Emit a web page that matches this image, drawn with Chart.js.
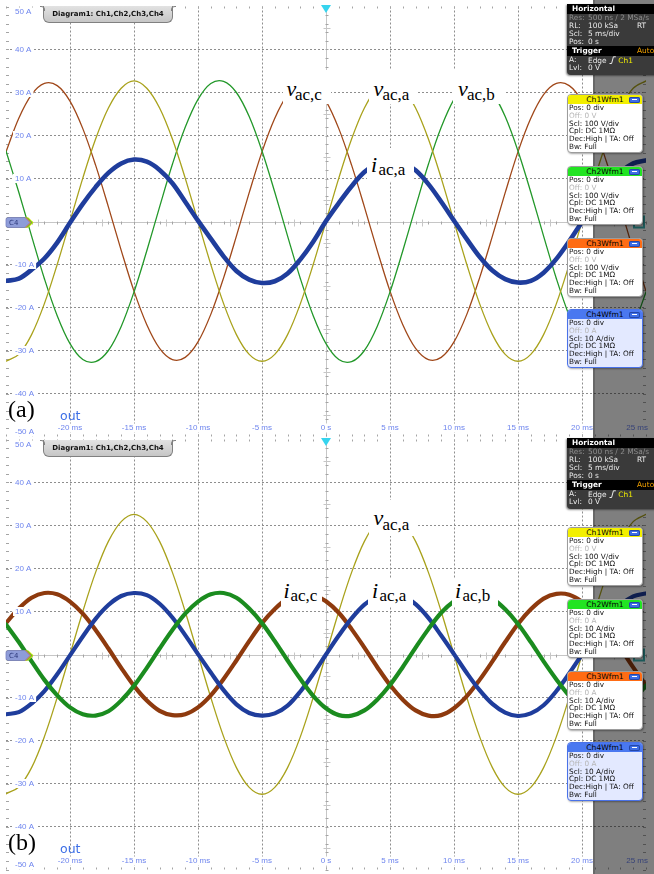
<!DOCTYPE html>
<html>
<head>
<meta charset="utf-8">
<title>Converter phase voltages and currents</title>
<script src="https://cdn.jsdelivr.net/npm/chart.js@4.4.1/dist/chart.umd.min.js"></script>
<style>
html,body{margin:0;padding:0;background:#fff}
body{position:relative;width:654px;height:874px;overflow:hidden;font-family:"DejaVu Sans",sans-serif}
.panel{position:absolute;left:0;width:654px;height:437px;overflow:hidden}
.panel canvas{position:absolute;left:0;top:0}
.hbox{position:absolute;left:567px;width:95px;background:#3a3a3a;color:#ececec;font:7.4px "DejaVu Sans",sans-serif;border-radius:0 0 0 4px;box-shadow:-1px 1px 2px rgba(0,0,0,.45);padding-bottom:3px}
.hbox .hd{background:#000;color:#fff;font-weight:bold;height:10px;line-height:10px;padding-left:5px;position:relative}
.hbox .r{height:8px;line-height:8px;padding-left:2px;white-space:nowrap;position:relative}
.hbox .v{position:absolute;left:21px;top:0}
.hbox .far{position:absolute;left:70px;top:0}
.hbox .dim{color:#8c8c8c}
.hbox .ylw{color:#f2ee00}
.hbox .org{color:#f0a000;font-weight:normal}
.chbox{position:absolute;left:567px;width:76px;box-sizing:border-box;background:#fff;border:1px solid #9c9c9c;border-radius:4px;box-shadow:1px 1px 2px rgba(0,0,0,.35);overflow:hidden;font:7.3px "DejaVu Sans",sans-serif;color:#111;padding-bottom:1px}
.chbox.c4{background:#e3e9ff;border-color:#4a72e8}
.chbox .hd{height:9px;line-height:9px;text-align:center;font-size:7.6px;color:#000;position:relative}
.chbox .btn{position:absolute;right:2px;top:1.5px;width:11px;height:6px;background:#3d6de6;border-radius:2px;box-shadow:inset 0 0 0 1px #2446a8}
.chbox .btn:after{content:"";position:absolute;left:3px;top:2.5px;width:5px;height:1px;background:#fff}
.chbox .r{height:7.8px;line-height:7.8px;padding-left:1px;white-space:nowrap}
.chbox .dim{color:#b6b6b6}
.tab{position:absolute;left:43px;width:130px;height:17px;box-sizing:border-box;background:linear-gradient(#e2e2e2,#c6c6c6);border:1px solid #808080;border-top:none;border-radius:0 0 6px 6px;font:bold 7px "DejaVu Sans",sans-serif;color:#111;text-align:center;line-height:17px}
.tab:before,.tab:after{content:"";position:absolute;top:0;width:4px;height:4px;border-top:1px solid #808080}
.tab:before{left:-4px;border-right:1px solid #808080;border-radius:0 4px 0 0}
.tab:after{right:-4px;border-left:1px solid #808080;border-radius:4px 0 0 0}
.out{position:absolute;left:60px;font:12.5px "DejaVu Sans",sans-serif;line-height:12.5px;color:#3d6fe6}
.tag{position:absolute;left:8px;font:24px "Liberation Serif",serif;line-height:24px;color:#000}
.tl{position:absolute;background:#fff}
.tl .m{position:absolute;font:italic 22px "Liberation Serif",serif;line-height:22px;color:#000;white-space:nowrap}
.tl .s{position:absolute;font:17px "Liberation Serif",serif;line-height:17px;color:#000;white-space:nowrap}
</style>
</head>
<body>
<div class="panel" id="panelA" style="top:0"><canvas id="chartA" width="654" height="437" style="width:654px;height:437px"></canvas></div>
<div class="panel" id="panelB" style="top:437px"><canvas id="chartB" width="654" height="437" style="width:654px;height:437px"></canvas></div>
<script>
// Sample instants (ms) of the captured records
const timeMs = [-25,-24,-23,-22,-21,-20,-19,-18,-17,-16,-15,-14,-13,-12,-11,-10,-9,-8,-7,-6,-5,-4,-3,-2,-1,0,1,2,3,4,5,6,7,8,9,10,11,12,13,14,15,16,17,18,19,20,21,22,23,24,25];

// (a) phase voltages (100 V/div, shown on the 10 A/div grid) and phase-a current
const vacA_a = [-32.5,-30.9,-26.3,-19.1,-10.0,0.0,10.1,19.2,26.4,31.0, 32.7,31.0,26.4,19.2,10.1,0.0,-10.0,-19.1,-26.3,-30.9, -32.5,-30.9,-26.3,-19.1,-10.0,0.0,10.1,19.2,26.4,31.0, 32.7,31.0,26.4,19.2,10.1,0.0,-10.0,-19.1,-26.3,-30.9, -32.5,-30.9,-26.3,-19.1,-10.0,0.0,10.1,19.2,26.4,31.0, 32.7];
const vacB_a = [16.4,6.8,-3.4,-13.3,-21.9,-28.4,-32.1,-32.6,-30.0,-24.4, -16.4,-6.8,3.4,13.3,21.9,28.4,32.1,32.6,30.0,24.4, 16.4,6.8,-3.4,-13.3,-21.9,-28.4,-32.1,-32.6,-30.0,-24.4, -16.4,-6.8,3.4,13.3,21.9,28.4,32.1,32.6,30.0,24.4, 16.4,6.8,-3.4,-13.3,-21.9,-28.4,-32.1,-32.6,-30.0,-24.4, -16.4];
const vacC_a = [16.2,24.0,29.5,32.1,31.6,28.0,21.6,13.1,3.4,-6.7, -16.2,-24.0,-29.5,-32.1,-31.6,-28.0,-21.6,-13.1,-3.4,6.7, 16.2,24.0,29.5,32.1,31.6,28.0,21.6,13.1,3.4,-6.7, -16.2,-24.0,-29.5,-32.1,-31.6,-28.0,-21.6,-13.1,-3.4,6.7, 16.2,24.0,29.5,32.1,31.6,28.0,21.6,13.1,3.4,-6.7, -16.2];
const iacA_a = [-13.8,-13.3,-11.2,-8.6,-4.9,-0.3,4.1,8.0,11.3,13.5, 14.4,13.9,12.0,8.9,4.6,0.2,-4.0,-8.1,-11.5,-13.5, -14.3,-13.9,-12.1,-8.8,-4.7,0.1,4.3,8.2,11.5,13.4, 14.2,13.7,11.9,8.7,4.6,0.2,-4.1,-8.2,-11.4,-13.4, -14.2,-13.8,-11.9,-8.7,-4.6,-0.1,4.2,8.2,11.4,13.5, 14.2];

// (b) phase-a voltage and the three phase currents
const vacA_b = [-32.4,-30.8,-26.3,-19.1,-10.0,0.0,10.0,19.1,26.3,30.9, 32.6,30.9,26.3,19.1,10.0,0.0,-10.0,-19.1,-26.3,-30.9, -32.5,-30.9,-26.3,-19.1,-10.0,0.0,10.0,19.1,26.3,30.9, 32.6,30.9,26.3,19.1,10.0,0.0,-10.0,-19.1,-26.3,-30.9, -32.5,-30.9,-26.3,-19.1,-10.0,0.0,10.0,19.1,26.3,30.9, 32.6];
const iacA_b = [-13.9,-13.4,-11.4,-8.5,-4.6,-0.2,4.2,8.3,11.5,13.6, 14.3,13.8,11.8,8.6,4.5,0.1,-4.2,-8.3,-11.6,-13.6, -14.2,-13.7,-11.9,-8.6,-4.5,0.0,4.4,8.4,11.6,13.5, 14.2,13.6,11.7,8.5,4.4,0.1,-4.3,-8.3,-11.5,-13.5, -14.3,-13.7,-11.8,-8.5,-4.4,0.0,4.3,8.3,11.5,13.5, 14.2];
const iacB_b = [7.0,2.9,-1.6,-5.9,-9.5,-12.3,-13.9,-14.2,-13.2,-10.7, -7.3,-3.1,1.4,5.7,9.5,12.3,14.0,14.3,13.2,10.7, 7.3,3.1,-1.4,-5.7,-9.6,-12.5,-14.1,-14.2,-13.0,-10.5, -7.1,-2.9,1.6,5.9,9.7,12.4,13.9,14.1,13.0,10.5, 7.1,2.9,-1.6,-5.8,-9.6,-12.4,-14.0,-14.2,-13.1,-10.6, -7.2];
const iacC_b = [7.3,10.7,13.2,14.3,14.0,12.3,9.5,5.7,1.4,-3.1, -7.3,-10.7,-13.1,-14.1,-13.9,-12.3,-9.5,-5.7,-1.4,3.1, 7.3,10.6,13.0,14.1,13.9,12.4,9.7,5.9,1.6,-2.9, -7.1,-10.5,-13.0,-14.2,-14.1,-12.5,-9.7,-5.9,-1.6,2.9, 7.1,10.5,13.0,14.1,13.9,12.3,9.6,5.8,1.5,-3.0, -7.2];

// Axis annotation
const xTickValues = [-20,-15,-10,-5,0,5,10,15,20,25];
const xTickLabels = ['-20 ms','-15 ms','-10 ms','-5 ms','0 s','5 ms','10 ms','15 ms','20 ms','25 ms'];
const yTickValues = [50,40,30,20,10,-10,-20,-30,-40,-50];
const yTickLabels = ['50 A','40 A','30 A','20 A','10 A','-10 A','-20 A','-30 A','-40 A','-50 A'];

const COL = {
  olive:'#a9a21c', green:'#23982a', brown:'#a0481a',
  blue:'#1f3d9c', greenThick:'#1b8c1f', brownThick:'#8e3a0e',
  grid:'#8e8e8e', axisText:'#6e85ee'
};
const ACQ_END_MS = 20.85;   // start of the shaded area past the record

const pts = vals => timeMs.map((t, i) => ({x: t, y: vals[i]}));
const gridColor = edge => c => (c.tick && (c.tick.value === 0 || Math.abs(c.tick.value) === edge)) ? 'rgba(0,0,0,0)' : COL.grid;

function pentagon(ctx, xl, yc, w, h) {
  ctx.beginPath();
  ctx.moveTo(xl + 2, yc - h / 2);
  ctx.lineTo(xl + w - 5, yc - h / 2);
  ctx.lineTo(xl + w, yc);
  ctx.lineTo(xl + w - 5, yc + h / 2);
  ctx.lineTo(xl + 2, yc + h / 2);
  ctx.quadraticCurveTo(xl, yc + h / 2, xl, yc + h / 2 - 2);
  ctx.lineTo(xl, yc - h / 2 + 2);
  ctx.quadraticCurveTo(xl, yc - h / 2, xl + 2, yc - h / 2);
  ctx.closePath();
}

const scopeDecor = {
  id: 'scopeDecor',
  beforeDatasetsDraw(chart) {
    const {ctx, chartArea: a, scales: {x, y}} = chart;
    const x0 = Math.round(x.getPixelForValue(0)) + 0.5;
    const y0 = Math.round(y.getPixelForValue(0)) + 0.5;
    ctx.save();
    ctx.lineWidth = 1;
    // centre cross with half-division marks
    ctx.strokeStyle = '#c6c6c6';
    ctx.beginPath();
    ctx.moveTo(a.left, y0); ctx.lineTo(a.right, y0);
    ctx.moveTo(x0, a.top); ctx.lineTo(x0, a.bottom);
    for (let t = -22.5; t < 25; t += 5) {
      const px = Math.round(x.getPixelForValue(t)) + 0.5;
      ctx.moveTo(px, y0 - 3); ctx.lineTo(px, y0 + 4);
    }
    for (let v = -45; v < 50; v += 10) {
      const py = Math.round(y.getPixelForValue(v)) + 0.5;
      ctx.moveTo(x0 - 3, py); ctx.lineTo(x0 + 4, py);
    }
    ctx.stroke();
    // fifth-division marks on the frame edges and the centre cross
    ctx.strokeStyle = '#a4a4a4';
    ctx.beginPath();
    for (let t = -25; t <= 25.001; t += 1) {
      const px = Math.round(x.getPixelForValue(t)) + 0.5;
      ctx.moveTo(px, a.top); ctx.lineTo(px, a.top + 2);
      ctx.moveTo(px, a.bottom - 2); ctx.lineTo(px, a.bottom);
      ctx.moveTo(px, y0 - 1); ctx.lineTo(px, y0 + 2);
    }
    for (let v = -50; v <= 50.001; v += 2) {
      const py = Math.round(y.getPixelForValue(v)) + 0.5;
      ctx.moveTo(a.left, py); ctx.lineTo(a.left + 3, py);
      ctx.moveTo(a.right - 3, py); ctx.lineTo(a.right, py);
      ctx.moveTo(x0 - 1, py); ctx.lineTo(x0 + 2, py);
    }
    ctx.stroke();
    ctx.restore();
  },
  afterDatasetsDraw(chart) {
    const {ctx, chartArea: a, scales: {x, y}} = chart;
    const x0 = x.getPixelForValue(0);
    const y0 = Math.round(y.getPixelForValue(0)) + 0.5;
    ctx.save();
    // tick labels with a white backdrop
    ctx.font = '8px "Liberation Sans", Arial, sans-serif';
    ctx.textBaseline = 'middle';
    yTickValues.forEach((v, i) => {
      const txt = yTickLabels[i];
      let py = y.getPixelForValue(v);
      py = Math.min(Math.max(py, a.top + 5.5), a.bottom - 4.5);
      const w = ctx.measureText(txt).width;
      const px = a.left + 9;
      ctx.fillStyle = '#fff';
      ctx.fillRect(px - 2, py - 4.5, w + 4, 9);
      ctx.fillStyle = COL.axisText;
      ctx.textAlign = 'left';
      ctx.fillText(txt, px, py);
    });
    xTickValues.forEach((v, i) => {
      const txt = xTickLabels[i];
      const w = ctx.measureText(txt).width;
      let cx = x.getPixelForValue(v);
      cx = Math.min(cx, a.right + 2 - w / 2);
      const py = a.bottom - 8.5;
      ctx.fillStyle = '#fff';
      ctx.fillRect(cx - w / 2 - 2, py - 4.5, w + 4, 9);
      ctx.fillStyle = COL.axisText;
      ctx.textAlign = 'center';
      ctx.fillText(txt, cx, py);
    });
    // reference-level marker of the stacked channels
    [['#e8e200', 27.5], ['#2fd42f', 26.5], ['#ff7a22', 25.5]].forEach(([c, w]) => {
      pentagon(ctx, a.left, y0, w, 10);
      ctx.fillStyle = c; ctx.fill();
    });
    pentagon(ctx, a.left, y0, 24, 10);
    ctx.fillStyle = '#8e9cd8'; ctx.fill();
    ctx.strokeStyle = '#7380c4'; ctx.lineWidth = 0.8; ctx.stroke();
    ctx.font = '7px "DejaVu Sans", sans-serif';
    ctx.fillStyle = '#2d3a7c';
    ctx.textAlign = 'left';
    ctx.fillText('C4', a.left + 3, y0 + 0.5);
    // shaded area past the end of the record
    const xs = Math.round(x.getPixelForValue(ACQ_END_MS));
    ctx.fillStyle = 'rgba(0,0,0,0.5)';
    ctx.fillRect(xs, 0, chart.width - xs, chart.height);
    ctx.fillStyle = 'rgba(0,0,0,0.18)';
    ctx.fillRect(xs, 0, 2, chart.height);
    // right-hand offset marker
    ctx.strokeStyle = '#1d5a5a'; ctx.lineWidth = 2;
    ctx.strokeRect(a.right - 12, y0 - 6, 10, 11);
    // trigger position marker
    ctx.fillStyle = '#36d4ee';
    ctx.beginPath();
    ctx.moveTo(x0 - 5, a.top - 1.5);
    ctx.lineTo(x0 + 5, a.top - 1.5);
    ctx.lineTo(x0, a.top + 6.5);
    ctx.closePath();
    ctx.fill();
    ctx.restore();
  }
};

function scopeChart(id, padding, datasets) {
  return new Chart(document.getElementById(id), {
    type: 'line',
    data: {datasets},
    options: {
      responsive: false,
      animation: false,
      events: [],
      layout: {padding},
      plugins: {legend: {display: false}, tooltip: {enabled: false}},
      elements: {point: {radius: 0}, line: {tension: 0.35, borderCapStyle: 'round', borderJoinStyle: 'round'}},
      scales: {
        x: {type: 'linear', min: -25, max: 25,
            ticks: {display: false, stepSize: 5},
            grid: {drawTicks: false, color: gridColor(25), lineWidth: 1},
            border: {display: false, dash: [2, 2]}},
        y: {type: 'linear', min: -50, max: 50,
            ticks: {display: false, stepSize: 10},
            grid: {drawTicks: false, color: gridColor(50), lineWidth: 1},
            border: {display: false, dash: [2, 2]}}
      }
    },
    plugins: [scopeDecor]
  });
}

const line = (vals, color, width) => ({data: pts(vals), borderColor: color, borderWidth: width, fill: false, pointRadius: 0});

scopeChart('chartA', {left: 6, right: 8, top: 6.5, bottom: 0.5}, [
  line(iacA_a, COL.blue, 4.6),
  line(vacA_a, COL.olive, 1.3),
  line(vacB_a, COL.green, 1.3),
  line(vacC_a, COL.brown, 1.3)
]);
scopeChart('chartB', {left: 6, right: 8, top: 2.5, bottom: 4.5}, [
  line(iacB_b, COL.greenThick, 4.2),
  line(iacA_b, COL.blue, 4.2),
  line(iacC_b, COL.brownThick, 4.2),
  line(vacA_b, COL.olive, 1.3)
]);

// ---- instrument overlays ----
function el(tag, cls, parent, text) {
  const e = document.createElement(tag);
  if (cls) e.className = cls;
  if (text !== undefined) e.textContent = text;
  parent.appendChild(e);
  return e;
}

function horizontalBox(panel, top) {
  const b = el('div', 'hbox', panel);
  b.style.top = top + 'px';
  el('div', 'hd', b, 'Horizontal');
  const res = el('div', 'r dim', b, 'Res:');
  el('span', 'v', res, '500 ns / 2 MSa/s');
  const rl = el('div', 'r', b, 'RL:');
  el('span', 'v', rl, '100 kSa'); el('span', 'far', rl, 'RT');
  const scl = el('div', 'r', b, 'Scl:'); el('span', 'v', scl, '5 ms/div');
  const pos = el('div', 'r', b, 'Pos:'); el('span', 'v', pos, '0 s');
  const tr = el('div', 'hd', b, 'Trigger'); el('span', 'far org', tr, 'Auto');
  const ta = el('div', 'r', b, 'A:');
  const v = el('span', 'v', ta);
  v.innerHTML = 'Edge <svg width="7" height="8" style="vertical-align:-1px"><path d="M0.5 7.5H2.6L4.4 0.8H6.8" stroke="#fff" stroke-width="0.9" fill="none"/></svg> <span class="ylw">Ch1</span>';
  const lv = el('div', 'r', b, 'Lvl:'); el('span', 'v', lv, '0 V');
}

const chTags = ['Ch1Wfm1', 'Ch2Wfm1', 'Ch3Wfm1', 'Ch4Wfm1'];
const chHead = ['#f3ef00', '#22e422', '#ff6c14', '#4a78f0'];
function channelBox(panel, top, i, scl, off) {
  const b = el('div', 'chbox' + (i === 3 ? ' c4' : ''), panel);
  b.style.top = top + 'px';
  const h = el('div', 'hd', b, chTags[i]);
  h.style.background = chHead[i];
  el('span', 'btn', h);
  el('div', 'r', b, 'Pos: 0 div');
  el('div', 'r dim', b, 'Off: ' + off);
  el('div', 'r', b, 'Scl: ' + scl);
  el('div', 'r', b, 'Cpl: DC 1M\u03A9');
  el('div', 'r', b, 'Dec:High | TA: Off');
  el('div', 'r', b, 'Bw: Full');
}

function traceLabel(panel, box, letter, sub, mPos, sPos) {
  const d = el('div', 'tl', panel);
  d.style.left = box[0] + 'px'; d.style.top = box[1] + 'px';
  d.style.width = box[2] + 'px'; d.style.height = box[3] + 'px';
  const m = el('span', 'm', d, letter);
  m.style.left = mPos[0] + 'px'; m.style.top = mPos[1] + 'px';
  const s = el('span', 's', d, sub);
  s.style.left = sPos[0] + 'px'; s.style.top = sPos[1] + 'px';
}

const pA = document.getElementById('panelA');
const pB = document.getElementById('panelB');

// panel (a)
el('div', 'tab', pA, 'Diagram1: Ch1,Ch2,Ch3,Ch4').style.top = '6px';
horizontalBox(pA, 4);
channelBox(pA, 94, 0, '100 V/div', '0 V');
channelBox(pA, 166, 1, '100 V/div', '0 V');
channelBox(pA, 238, 2, '100 V/div', '0 V');
channelBox(pA, 309, 3, '10 A/div', '0 A');
traceLabel(pA, [283, 70, 48, 34], 'v', 'ac,c', [3.5, 7.6], [12, 15.5]);
traceLabel(pA, [369, 70, 49, 34], 'v', 'ac,a', [4.5, 7.6], [13.5, 15.5]);
traceLabel(pA, [453, 70, 53, 34], 'v', 'ac,b', [5, 7.6], [14, 15.5]);
traceLabel(pA, [367, 148, 47, 34], 'i', 'ac,a', [4, 5.6], [11.5, 12.8]);
el('div', 'out', pA, 'out').style.top = '410.4px';
el('div', 'tag', pA, '(a)').style.top = '397px';

// panel (b)
el('div', 'tab', pB, 'Diagram1: Ch1,Ch2,Ch3,Ch4').style.top = '3px';
horizontalBox(pB, 1);
channelBox(pB, 90, 0, '100 V/div', '0 V');
channelBox(pB, 162, 1, '10 A/div', '0 A');
channelBox(pB, 234, 2, '10 A/div', '0 A');
channelBox(pB, 305, 3, '10 A/div', '0 A');
traceLabel(pB, [369, 63, 49, 36], 'v', 'ac,a', [4.5, 6.6], [13.5, 15.5]);
traceLabel(pB, [281, 141, 41, 28], 'i', 'ac,c', [2.5, 1.6], [9.5, 9.3]);
traceLabel(pB, [368, 141, 45, 28], 'i', 'ac,a', [4, 1.6], [11.5, 9.3]);
traceLabel(pB, [452, 141, 46, 28], 'i', 'ac,b', [3, 1.6], [10.5, 9.3]);
el('div', 'out', pB, 'out').style.top = '406.4px';
el('div', 'tag', pB, '(b)').style.top = '393px';
</script>
</body>
</html>
